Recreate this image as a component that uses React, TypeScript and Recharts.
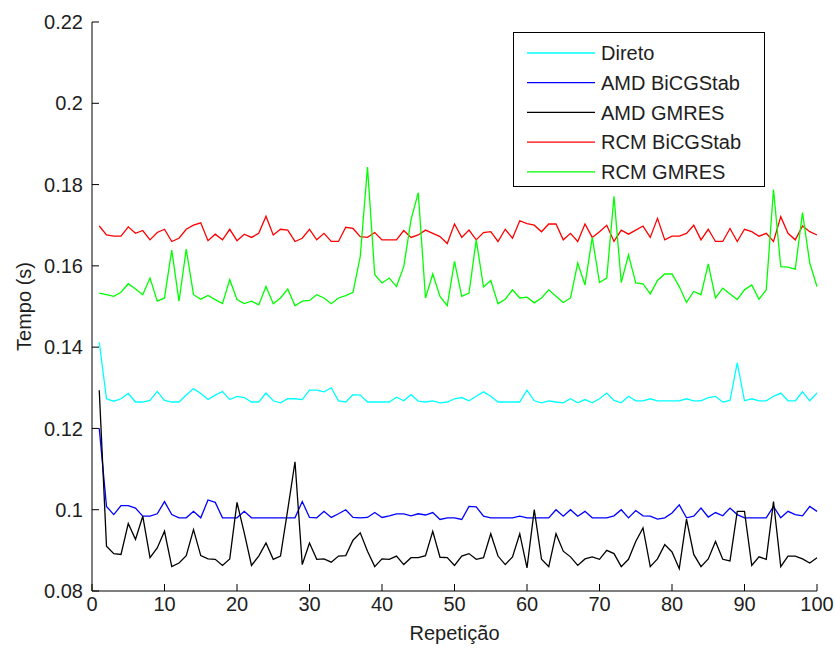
import React from 'react';
import { LineChart, Line, XAxis, YAxis, Legend } from 'recharts';

// Repetition index (1..100)
const repeticoes: number[] = Array.from({ length: 100 }, (_, i) => i + 1);

const direto: number[] = [
  0.1412, 0.1273, 0.1267, 0.1273, 0.1286, 0.1265, 0.1265, 0.1269, 0.1291, 0.1269,
  0.1265, 0.1265, 0.1282, 0.1298, 0.1286, 0.1271, 0.1282, 0.1291, 0.1271, 0.1279,
  0.1276, 0.1265, 0.1265, 0.1287, 0.1268, 0.1263, 0.1273, 0.1273, 0.1271, 0.1294,
  0.1294, 0.1290, 0.1300, 0.1268, 0.1265, 0.1283, 0.1282, 0.1265, 0.1265, 0.1265,
  0.1265, 0.1277, 0.1268, 0.1283, 0.1267, 0.1265, 0.1268, 0.1263, 0.1265, 0.1273,
  0.1276, 0.1268, 0.1279, 0.1290, 0.1279, 0.1265, 0.1265, 0.1265, 0.1265, 0.1294,
  0.1268, 0.1263, 0.1268, 0.1265, 0.1263, 0.1273, 0.1263, 0.1271, 0.1263, 0.1273,
  0.1287, 0.1269, 0.1263, 0.1279, 0.1268, 0.1268, 0.1273, 0.1268, 0.1268, 0.1268,
  0.1268, 0.1273, 0.1268, 0.1268, 0.1276, 0.1279, 0.1265, 0.1269, 0.1361, 0.1268,
  0.1273, 0.1268, 0.1268, 0.1279, 0.1287, 0.1268, 0.1268, 0.1290, 0.1268, 0.1287,
];

const amdBicgstab: number[] = [
  0.1200, 0.1008, 0.0988, 0.1010, 0.1010, 0.1004, 0.0984, 0.0984, 0.0990, 0.1020,
  0.0988, 0.0980, 0.0980, 0.0996, 0.0980, 0.1024, 0.1018, 0.0980, 0.0980, 0.0980,
  0.0996, 0.0980, 0.0980, 0.0980, 0.0980, 0.0980, 0.0980, 0.0980, 0.1020, 0.0981,
  0.0980, 0.0996, 0.0981, 0.0990, 0.1000, 0.0981, 0.0980, 0.0981, 0.0993, 0.0981,
  0.0985, 0.0990, 0.0990, 0.0985, 0.0990, 0.0987, 0.0993, 0.0976, 0.0980, 0.0980,
  0.0976, 0.1008, 0.1007, 0.0984, 0.0980, 0.0980, 0.0980, 0.0980, 0.0984, 0.0980,
  0.0980, 0.0980, 0.0980, 0.1000, 0.0984, 0.1000, 0.0984, 0.0996, 0.0980, 0.0980,
  0.0980, 0.0985, 0.1000, 0.0980, 0.0998, 0.0985, 0.0984, 0.0977, 0.0980, 0.0992,
  0.1012, 0.0980, 0.0984, 0.1004, 0.0982, 0.0993, 0.0985, 0.1004, 0.0988, 0.0980,
  0.0980, 0.0980, 0.0980, 0.1008, 0.0980, 0.0996, 0.0988, 0.0985, 0.1008, 0.0996,
];

const amdGmres: number[] = [
  0.1294, 0.0910, 0.0892, 0.0890, 0.0966, 0.0927, 0.0984, 0.0882, 0.0906, 0.0947,
  0.0860, 0.0869, 0.0887, 0.0951, 0.0887, 0.0879, 0.0878, 0.0863, 0.0879, 0.1018,
  0.0943, 0.0863, 0.0886, 0.0918, 0.0878, 0.0886, 0.1000, 0.1118, 0.0865, 0.0918,
  0.0878, 0.0879, 0.0871, 0.0886, 0.0887, 0.0925, 0.0943, 0.0898, 0.0860, 0.0879,
  0.0878, 0.0886, 0.0865, 0.0882, 0.0882, 0.0887, 0.0947, 0.0883, 0.0882, 0.0863,
  0.0886, 0.0892, 0.0878, 0.0882, 0.0941, 0.0886, 0.0865, 0.0884, 0.0941, 0.0857,
  0.1000, 0.0878, 0.0860, 0.0941, 0.0898, 0.0884, 0.0863, 0.0879, 0.0884, 0.0878,
  0.0900, 0.0892, 0.0860, 0.0878, 0.0922, 0.0955, 0.0860, 0.0879, 0.0914, 0.0896,
  0.0855, 0.0977, 0.0890, 0.0860, 0.0879, 0.0922, 0.0878, 0.0874, 0.0996, 0.0996,
  0.0863, 0.0884, 0.0878, 0.1020, 0.0860, 0.0886, 0.0886, 0.0879, 0.0869, 0.0882,
];

const rcmBicgstab: number[] = [
  0.1698, 0.1676, 0.1673, 0.1673, 0.1696, 0.1680, 0.1687, 0.1664, 0.1682, 0.1690,
  0.1660, 0.1668, 0.1690, 0.1700, 0.1706, 0.1662, 0.1678, 0.1664, 0.1690, 0.1662,
  0.1678, 0.1670, 0.1680, 0.1722, 0.1676, 0.1690, 0.1688, 0.1660, 0.1668, 0.1690,
  0.1664, 0.1680, 0.1660, 0.1660, 0.1695, 0.1692, 0.1672, 0.1670, 0.1682, 0.1664,
  0.1664, 0.1664, 0.1687, 0.1670, 0.1676, 0.1688, 0.1680, 0.1672, 0.1655, 0.1703,
  0.1670, 0.1688, 0.1664, 0.1682, 0.1684, 0.1660, 0.1690, 0.1668, 0.1711, 0.1704,
  0.1700, 0.1684, 0.1703, 0.1703, 0.1664, 0.1680, 0.1660, 0.1703, 0.1670, 0.1684,
  0.1700, 0.1660, 0.1688, 0.1678, 0.1688, 0.1698, 0.1670, 0.1717, 0.1664, 0.1673,
  0.1673, 0.1680, 0.1700, 0.1664, 0.1690, 0.1660, 0.1660, 0.1692, 0.1660, 0.1690,
  0.1684, 0.1673, 0.1680, 0.1660, 0.1721, 0.1680, 0.1664, 0.1698, 0.1684, 0.1676,
];

const rcmGmres: number[] = [
  0.1533, 0.1529, 0.1525, 0.1535, 0.1556, 0.1543, 0.1529, 0.1570, 0.1513, 0.1521,
  0.1639, 0.1513, 0.1641, 0.1529, 0.1518, 0.1527, 0.1517, 0.1507, 0.1566, 0.1517,
  0.1507, 0.1513, 0.1504, 0.1549, 0.1507, 0.1521, 0.1543, 0.1502, 0.1513, 0.1515,
  0.1529, 0.1521, 0.1507, 0.1521, 0.1527, 0.1535, 0.1623, 0.1843, 0.1578, 0.1558,
  0.1570, 0.1549, 0.1598, 0.1713, 0.1780, 0.1521, 0.1580, 0.1525, 0.1502, 0.1611,
  0.1525, 0.1533, 0.1664, 0.1548, 0.1564, 0.1507, 0.1518, 0.1541, 0.1521, 0.1523,
  0.1509, 0.1521, 0.1541, 0.1525, 0.1510, 0.1521, 0.1607, 0.1553, 0.1670, 0.1559,
  0.1570, 0.1771, 0.1559, 0.1627, 0.1558, 0.1556, 0.1531, 0.1564, 0.1580, 0.1580,
  0.1549, 0.1510, 0.1537, 0.1529, 0.1605, 0.1521, 0.1545, 0.1531, 0.1517, 0.1541,
  0.1553, 0.1518, 0.1541, 0.1788, 0.1598, 0.1597, 0.1592, 0.1731, 0.1607, 0.1549,
];

const xTicks: number[] = [0, 10, 20, 30, 40, 50, 60, 70, 80, 90, 100];
const yTicks: number[] = [0.08, 0.1, 0.12, 0.14, 0.16, 0.18, 0.2, 0.22];

const series = [
  { key: 'direto', name: 'Direto', color: '#00FFFF', values: direto },
  { key: 'amdBicgstab', name: 'AMD BiCGStab', color: '#0000FF', values: amdBicgstab },
  { key: 'amdGmres', name: 'AMD GMRES', color: '#000000', values: amdGmres },
  { key: 'rcmBicgstab', name: 'RCM BiCGStab', color: '#FF0000', values: rcmBicgstab },
  { key: 'rcmGmres', name: 'RCM GMRES', color: '#00FF00', values: rcmGmres },
];

const data = repeticoes.map((rep, i) => {
  const row: Record<string, number> = { rep };
  series.forEach((s) => {
    row[s.key] = s.values[i];
  });
  return row;
});

const FONT = '"Liberation Sans", Arial, Helvetica, sans-serif';
const TEXT = '#1e1e1e';
const FS = 20;
const TICK_LEN = 7;
const Y_GAP = 9;
const X_GAP = 4;

// MATLAB-style ticks: short marks pointing into the plot box, labels outside.
const LeftTick = (props: any) => {
  const { x, y, payload } = props;
  const ax = x + Y_GAP;
  return (
    <g>
      <line x1={ax} x2={ax + TICK_LEN} y1={y} y2={y} stroke="#000" strokeWidth={1} />
      <text x={x} y={y} dy="0.36em" textAnchor="end" fontFamily={FONT} fontSize={FS} fill={TEXT}>
        {String(payload.value)}
      </text>
    </g>
  );
};

const BottomTick = (props: any) => {
  const { x, y, payload } = props;
  const ay = y - X_GAP;
  return (
    <g>
      <line x1={x} x2={x} y1={ay} y2={ay - TICK_LEN} stroke="#000" strokeWidth={1} />
      <text x={x} y={y} dy="0.78em" textAnchor="middle" fontFamily={FONT} fontSize={FS} fill={TEXT}>
        {String(payload.value)}
      </text>
    </g>
  );
};

const RightTick = (props: any) => {
  const { x, y } = props;
  return <line x1={x} x2={x - TICK_LEN} y1={y} y2={y} stroke="#000" strokeWidth={1} />;
};

const TopTick = (props: any) => {
  const { x, y } = props;
  return <line x1={x} x2={x} y1={y} y2={y + TICK_LEN} stroke="#000" strokeWidth={1} />;
};

const LegendBox = () => {
  const w = 252;
  const h = 155;
  return (
    <svg width={w} height={h} style={{ display: 'block' }}>
      <rect x={0.5} y={0.5} width={w - 1} height={h - 1} fill="#fff" stroke="#000" strokeWidth={1} />
      {series.map((s, i) => {
        const cy = 21 + i * 29.7;
        return (
          <g key={s.key}>
            <line x1={14} x2={82} y1={cy} y2={cy} stroke={s.color} strokeWidth={1.3} />
            <text x={88} y={cy} dy="0.36em" fontFamily={FONT} fontSize={FS} fill={TEXT}>
              {s.name}
            </text>
          </g>
        );
      })}
    </svg>
  );
};

export default function App() {
  return (
    <div style={{ position: 'absolute', left: 0, top: 0, width: 835, height: 651, background: '#fff' }}>
      <LineChart
        width={835}
        height={651}
        data={data}
        margin={{ top: 22, right: 18, bottom: 0, left: 0 }}
      >
        <XAxis
          dataKey="rep"
          type="number"
          domain={[0, 100]}
          ticks={xTicks}
          interval={0}
          height={60}
          tickSize={0}
          tickMargin={X_GAP}
          tickLine={false}
          axisLine={{ stroke: '#000', strokeWidth: 1 }}
          tick={<BottomTick />}
          label={{
            value: 'Repetição',
            position: 'insideBottom',
            offset: 11,
            style: { fontFamily: FONT, fontSize: FS, fill: TEXT },
          }}
        />
        <XAxis
          xAxisId="top"
          orientation="top"
          type="number"
          domain={[0, 100]}
          ticks={xTicks}
          interval={0}
          height={0}
          tickSize={0}
          tickMargin={0}
          tickLine={false}
          axisLine={{ stroke: '#000', strokeWidth: 1 }}
          tick={<TopTick />}
        />
        <YAxis
          type="number"
          domain={[0.08, 0.22]}
          ticks={yTicks}
          interval={0}
          width={92}
          tickSize={0}
          tickMargin={Y_GAP}
          tickLine={false}
          axisLine={{ stroke: '#000', strokeWidth: 1 }}
          tick={<LeftTick />}
          label={{
            value: 'Tempo (s)',
            angle: -90,
            position: 'insideLeft',
            offset: 24,
            style: { fontFamily: FONT, fontSize: FS, fill: TEXT, textAnchor: 'middle' },
          }}
        />
        <YAxis
          yAxisId="right"
          orientation="right"
          type="number"
          domain={[0.08, 0.22]}
          ticks={yTicks}
          interval={0}
          width={0}
          tickSize={0}
          tickMargin={0}
          tickLine={false}
          axisLine={{ stroke: '#000', strokeWidth: 1 }}
          tick={<RightTick />}
        />
        <Legend
          layout="vertical"
          align="center"
          verticalAlign="middle"
          wrapperStyle={{ left: 513, top: 32, width: 252, height: 155 }}
          content={() => <LegendBox />}
        />
        {series.map((s) => (
          <Line
            key={s.key}
            dataKey={s.key}
            name={s.name}
            type="linear"
            stroke={s.color}
            strokeWidth={1.3}
            dot={false}
            activeDot={false}
            isAnimationActive={false}
          />
        ))}
      </LineChart>
    </div>
  );
}
